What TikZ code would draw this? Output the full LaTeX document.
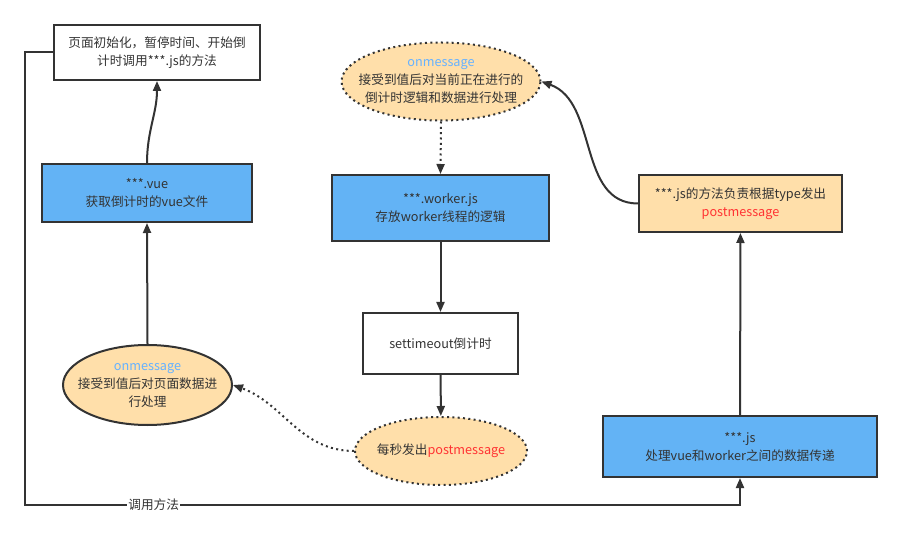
\documentclass[tikz,border=0pt]{standalone}
\usepackage{fontspec}
\setmainfont{Noto Sans CJK SC}
\usetikzlibrary{shapes.geometric,arrows.meta}
\definecolor{boxblue}{HTML}{63B3F5}
\definecolor{boxorange}{HTML}{FFDFAA}
\definecolor{linegray}{HTML}{333333}
\definecolor{msgblue}{HTML}{66B2FF}
\definecolor{msgred}{HTML}{FF3333}
\tikzset{
  base/.style={draw=linegray,line width=1.5pt,text=linegray,align=center,inner sep=0pt,
    font=\fontsize{9.5pt}{13.5pt}\selectfont},
  plainbox/.style={base,rectangle,fill=white},
  bluebox/.style={base,rectangle,fill=boxblue},
  orangebox/.style={base,rectangle,fill=boxorange},
  msgell/.style={base,ellipse,fill=boxorange,inner xsep=-9pt},
  dotline/.style={dash pattern=on 1.5pt off 2.5pt},
  link/.style={draw=linegray,line width=1.5pt,-{Triangle[length=7.5pt,width=6pt]}},
}

\begin{document}
\begin{tikzpicture}[x=0.75pt,y=0.75pt]
\useasboundingbox (0,0) rectangle (902,532);
% left column
\node[plainbox,minimum width=154.5pt,minimum height=41.25pt] (init) at (157,479.5)
  {页面初始化，暂停时间、开始倒\\计时调用***.js的方法};
\node[bluebox,minimum width=157.5pt,minimum height=43.5pt] (vue) at (147,339)
  {***.vue\\获取倒计时的vue文件};
\node[msgell,minimum width=126.75pt,minimum height=60pt] (leftmsg) at (147.5,147)
  {{\color{msgblue}onmessage}\\接受到值后对页面数据进\\行处理};
% middle column
\node[msgell,dotline,minimum width=148.5pt,minimum height=58.5pt] (topmsg) at (441,450.5)
  {{\color{msgblue}onmessage}\\接受到值后对当前正在进行的\\倒计时逻辑和数据进行处理};
\node[bluebox,minimum width=162.75pt,minimum height=49.5pt] (worker) at (440.5,324)
  {***.worker.js\\存放worker线程的逻辑};
\node[plainbox,minimum width=116.25pt,minimum height=45.75pt] (timer) at (440.5,188.5)
  {settimeout倒计时};
\node[msgell,dotline,minimum width=129pt,minimum height=51pt] (tick) at (441,81)
  {每秒发出{\color{msgred}postmessage}};
% right column
\node[orangebox,minimum width=152.25pt,minimum height=42.75pt] (pmbox) at (740.5,328.5)
  {***.js的方法负责根据type发出\\{\color{msgred}postmessage}};
\node[bluebox,minimum width=205.5pt,minimum height=45.75pt] (jsbox) at (740,85.5)
  {***.js\\处理vue和worker之间的数据传递};
\coordinate (corner) at (25,27);

\draw[link] (vue.north) to[out=90,in=-90] (init.south);
\draw[link] (leftmsg.north) -- (vue.south);
\draw[link,dotline] (topmsg.south) -- (worker.north);
\draw[link] (worker) -- (timer);
\draw[link] (timer) -- (tick);
\draw[link,dotline] (tick.west) to[out=180,in=-20] (leftmsg.east);
\draw[link] (jsbox) -- (pmbox);
\draw[link] (pmbox.west) to[out=180,in=-20] (topmsg.east);
\draw[link] (init.west) -| (corner)
  -- node[pos=0.18,fill=white,text=linegray,inner sep=1pt,font=\fontsize{9.5pt}{12pt}\selectfont] {调用方法} (corner -| jsbox.south)
  -- (jsbox.south);
\end{tikzpicture}
\end{document}
